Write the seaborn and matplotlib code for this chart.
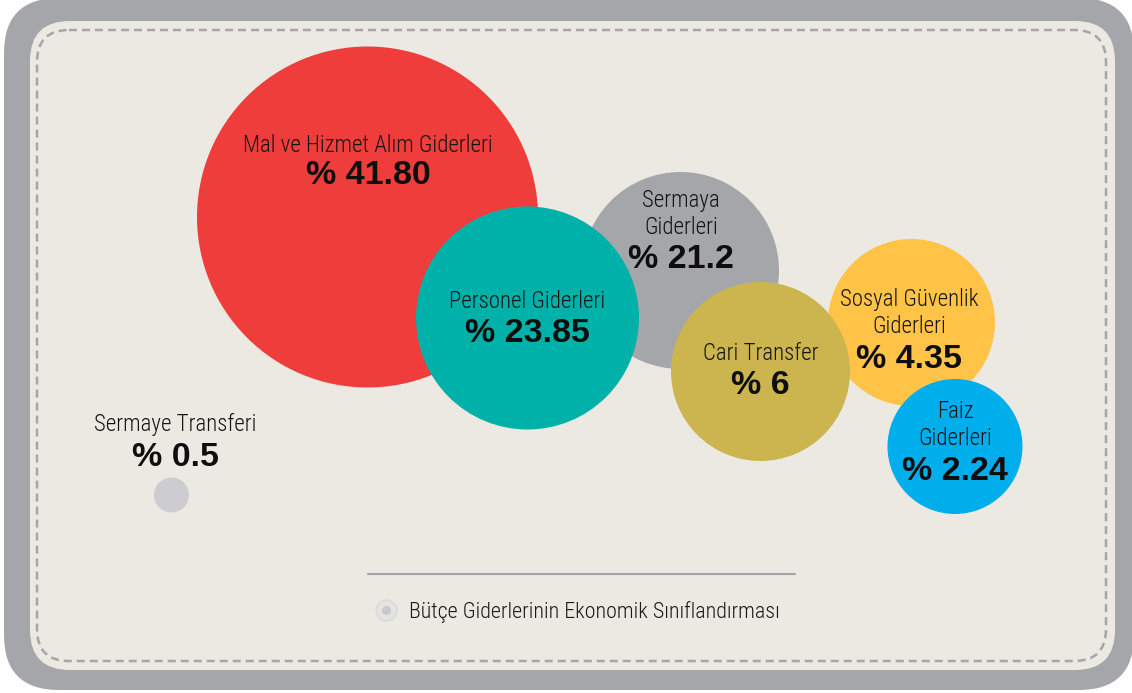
"""
plot.py - bubble chart of the budget expenditure split (economic classification).
"""

import matplotlib
matplotlib.use("Agg")

import pandas as pd
import matplotlib.pyplot as plt
import seaborn as sns
from matplotlib.patches import FancyBboxPatch
from matplotlib.lines import Line2D
from matplotlib.legend_handler import HandlerTuple

# ---- data ---------------------------------------------------------------
# listed in drawing order (later bubbles sit on top)
categories = [
    "Mal ve Hizmet Alım Giderleri",
    "Sermaya\nGiderleri",
    "Personel Giderleri",
    "Sosyal Güvenlik\nGiderleri",
    "Cari Transfer",
    "Faiz\nGiderleri",
    "Sermaye Transferi",
]
shares = ["41.80", "21.2", "23.85", "4.35", "6", "2.24", "0.5"]
bubble_x = [367.5, 680.5, 527.5, 911.5, 760.5, 955.0, 171.5]
bubble_y = [217.0, 270.5, 318.0, 322.5, 371.5, 446.5, 495.0]
bubble_r = [170.5, 98.5, 111.5, 83.5, 89.5, 67.5, 17.5]
colors = ["#EE3D3A", "#A5A6AA", "#00B1AA", "#FFC447", "#CCB44F", "#00AEEC", "#CDCDD1"]
series_name = "Bütçe Giderlerinin Ekonomik Sınıflandırması"

df = pd.DataFrame({
    "category": categories,
    "x": bubble_x,
    "y": bubble_y,
    "area": [r ** 2 for r in bubble_r],
})

W, H = 1132, 693
sns.set_style("white")
COND = ["Roboto Condensed", "Liberation Sans Narrow", "DejaVu Sans"]
BOLD = ["Liberation Sans", "DejaVu Sans"]
plt.rcParams["font.family"] = COND

fig = plt.figure(figsize=(W / 100, H / 100), dpi=100)
ax = fig.add_axes([0, 0, 1, 1])

# ---- rounded card frame -------------------------------------------------
ax.add_patch(FancyBboxPatch((4, -2), 1130, 692, boxstyle="round,pad=0,rounding_size=55",
                            fc="#A5A6A9", ec="none", zorder=0))
ax.add_patch(FancyBboxPatch((30, 21), 1085, 649, boxstyle="round,pad=0,rounding_size=40",
                            fc="#ECE9E2", ec="none", zorder=0.5))
ax.add_patch(FancyBboxPatch((37, 30), 1069, 631, boxstyle="round,pad=0,rounding_size=32",
                            fc="none", ec="#A5A6A9", lw=1.8, ls=(0, (3.2, 2.0)), zorder=0.6))

# ---- bubbles ------------------------------------------------------------
# marker area in pt^2 for a radius in px: (2 * r * 0.72) ** 2
amax = df["area"].max()
sns.scatterplot(data=df, x="x", y="y", hue="category", size="area",
                palette=dict(zip(categories, colors)),
                sizes=(0, amax * 1.44 ** 2), size_norm=(0, amax),
                linewidth=0, alpha=1, legend=False, ax=ax, zorder=2)
ax.set_xlim(0, W)
ax.set_ylim(H, 0)
ax.axis("off")

# ---- labels -------------------------------------------------------------
label_y = [146, 214, 302, 313, 353, 425, 424]
pct_y = [176, 259, 334, 360, 386, 472, 457]
label_x = [368, 681, 527.5, 909, 760.5, 955, 175]
for name, val, lx, ly, py in zip(categories, shares, label_x, label_y, pct_y):
    ax.text(lx, ly, name, ha="center", va="center", fontsize=16.5,
            fontweight="light", color="#151515", linespacing=1.2, zorder=3)
    ax.text(lx, py, f"% {val}", ha="center", va="center", fontsize=24.5,
            fontweight="bold", family=BOLD, color="#0E0E0E", zorder=3)

# ---- legend -------------------------------------------------------------
ax.plot([368, 795], [574, 574], color="#A3A4A6", lw=1.5, zorder=1)
outer = Line2D([], [], ls="none", marker="o", markersize=15,
               mfc="#E3E3E3", mec="#D8D8D8", mew=1)
inner = Line2D([], [], ls="none", marker="o", markersize=6.5,
               mfc="#C8C8CA", mec="none")
leg = ax.legend(handles=[(outer, inner)], labels=[series_name],
                handler_map={tuple: HandlerTuple(ndivide=1)},
                loc="center left", bbox_to_anchor=(362 / W, 1 - 612 / H),
                frameon=False, handlelength=1.2, handletextpad=0.45,
                borderpad=0, labelcolor="#1A1A1A",
                prop={"family": COND, "size": 15.8, "weight": "light"})

fig.savefig("out.png", dpi=100, facecolor="white")
